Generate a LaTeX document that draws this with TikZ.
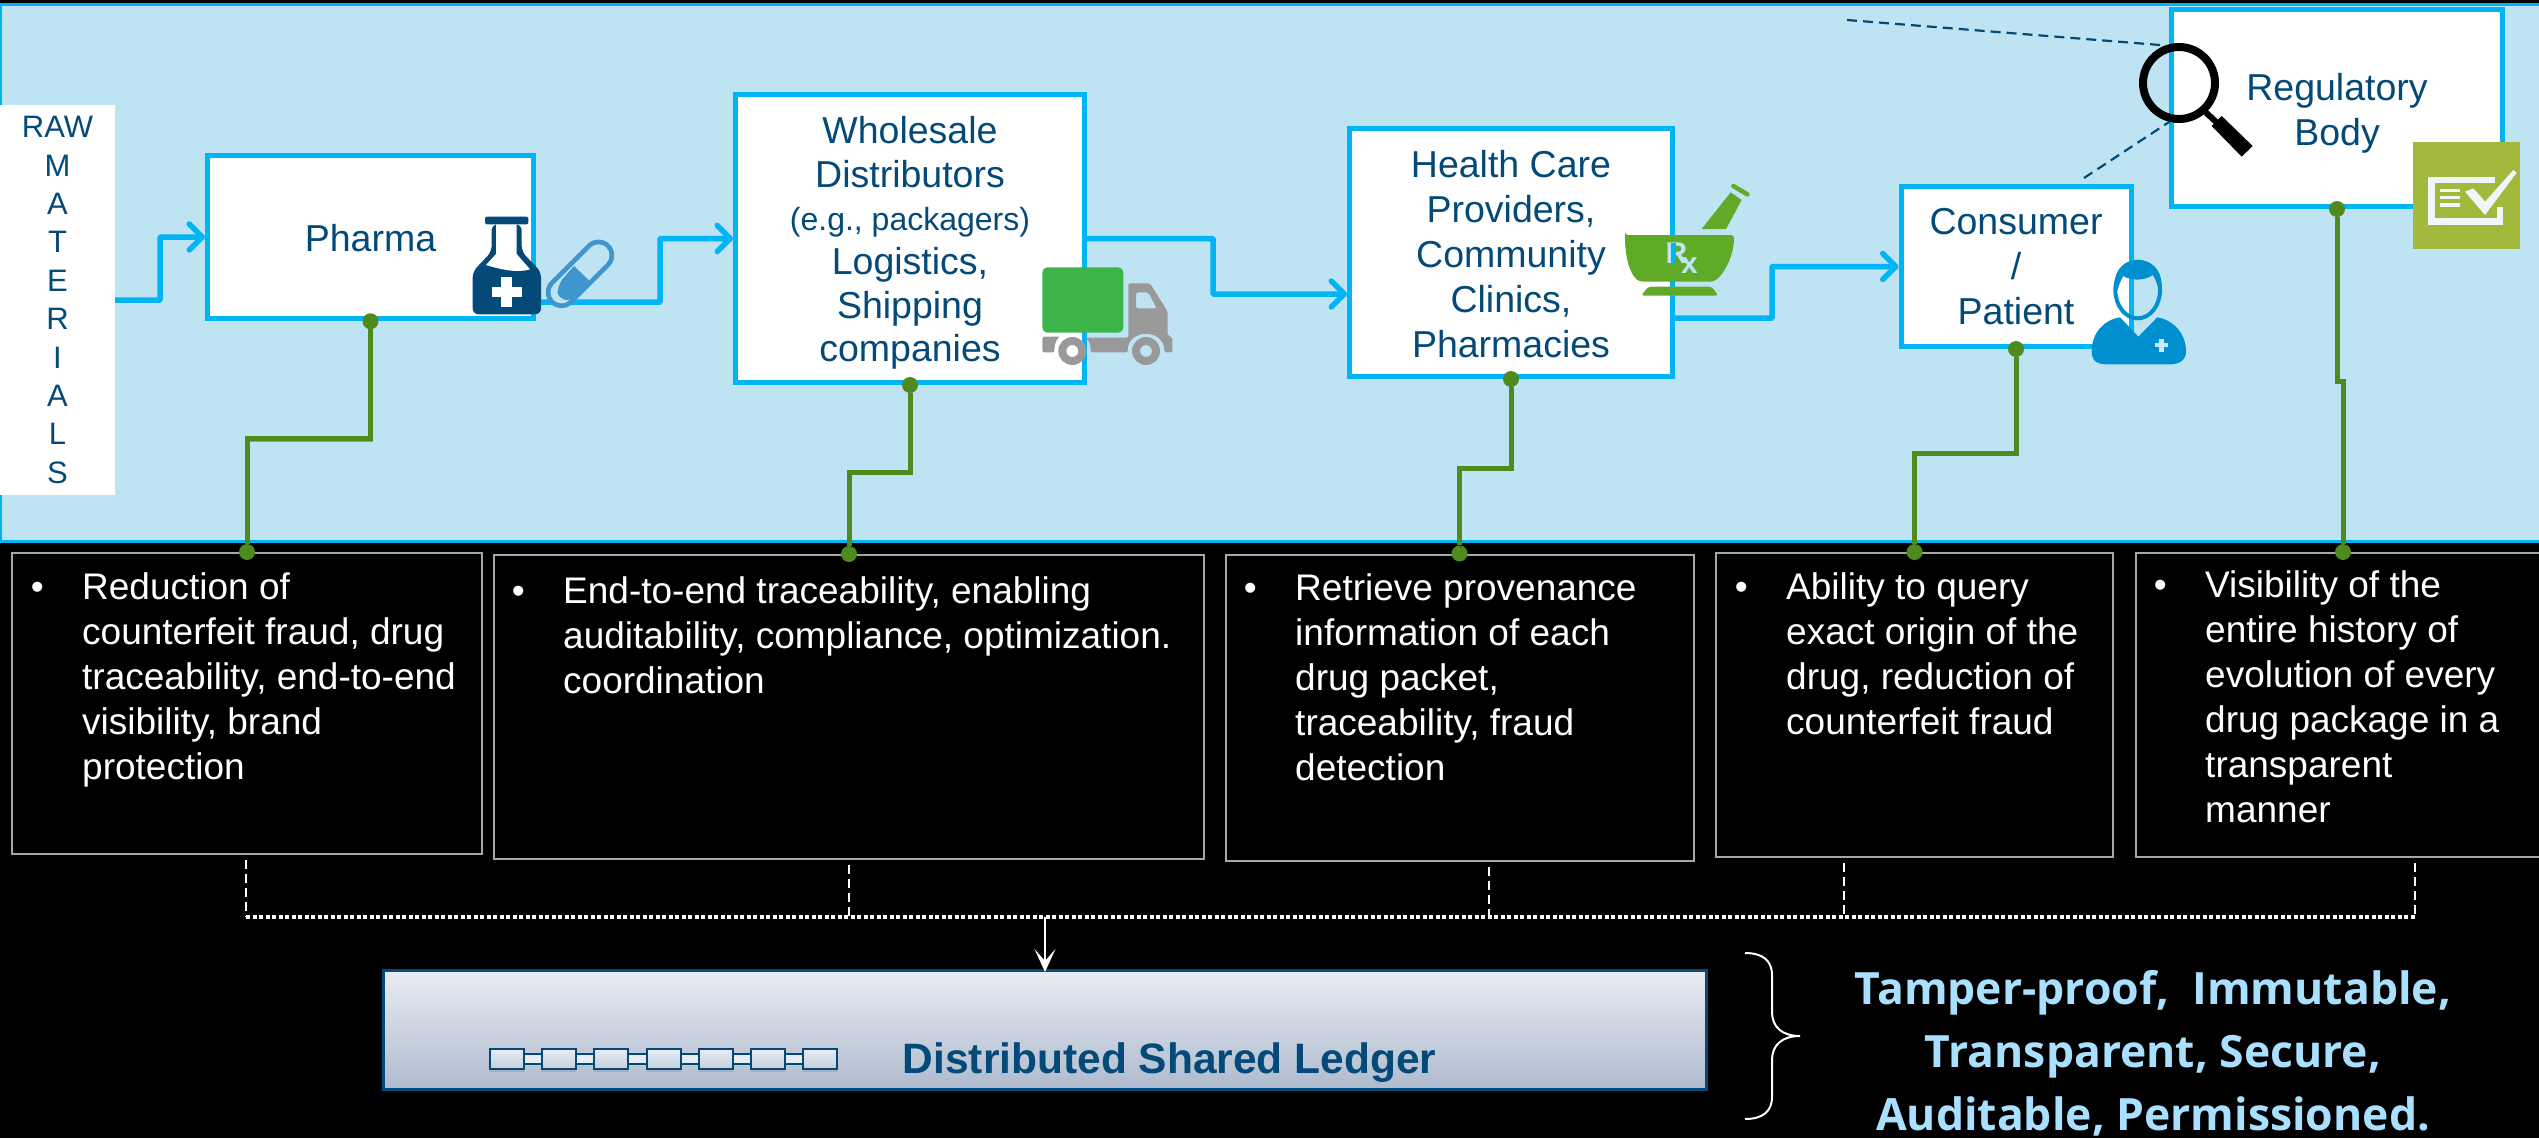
\documentclass[tikz,border=0pt]{standalone}
\usepackage{fontspec}
\setmainfont{Liberation Sans}
\newfontfamily\claimfont{Open Sans}
\usetikzlibrary{arrows.meta,positioning,shadows}
\definecolor{bandblue}{HTML}{BEE4F3}
\definecolor{flowcyan}{HTML}{00B4F5}
\definecolor{inknavy}{HTML}{044A78}
\definecolor{stemgreen}{HTML}{4F8A1E}
\definecolor{edgegray}{HTML}{A6A6A6}
\definecolor{ledgertop}{HTML}{E9ECF2}
\definecolor{ledgerbot}{HTML}{AEBBCE}
\definecolor{claimblue}{HTML}{A9E0FF}
\definecolor{checkolive}{HTML}{A2B93D}
\definecolor{checkpale}{HTML}{F2F6FA}
\definecolor{pillblue}{HTML}{3F95CE}
\definecolor{truckgreen}{HTML}{3BB44A}
\definecolor{truckgray}{HTML}{999999}
\definecolor{mortargreen}{HTML}{5FAB28}
\definecolor{medicblue}{HTML}{0090CF}
\definecolor{medicpale}{HTML}{CFE8F5}
\newcommand{\boxfont}{\fontsize{37.5}{45}\selectfont}
\newcommand{\notefont}{\fontsize{37}{45}\selectfont}
\newcommand{\lift}[1]{\rule{0pt}{#1pt}}
\tikzset{
	stage/.style={draw=flowcyan, fill=white, line width=5pt, inner sep=0pt, text=inknavy, align=center, font=\boxfont},
	flow/.style={draw=flowcyan, line width=5.5pt, rounded corners=1pt, -{Straight Barb[length=13pt,width=26pt,line width=5.5pt,round]},
		preaction={draw=black, opacity=.3, -, transform canvas={shift={(2pt,-2.5pt)}}}},
	stem/.style={draw=stemgreen, line width=5pt,
		preaction={draw=black, opacity=.3, transform canvas={shift={(2pt,-2.5pt)}}}},
	port/.style={circle, fill=stemgreen, inner sep=0pt, minimum size=16pt},
	notebox/.style={draw=edgegray, line width=2pt, inner sep=0pt},
	notetext/.style={text=white, align=left, inner sep=0pt, anchor=north west, font=\notefont},
	dropline/.style={draw=white, line width=2pt, dash pattern=on 9pt off 5pt, shorten <=5pt},
	busline/.style={draw=white, line width=3.2pt, dash pattern=on 4pt off 2.5pt},
	sightline/.style={draw=inknavy, line width=2.2pt, dash pattern=on 10pt off 6pt},
	chainblock/.style={draw=inknavy, line width=2pt, top color=ledgertop, bottom color=ledgerbot!60!ledgertop, minimum width=34pt, minimum height=20pt, inner sep=0pt,
		drop shadow={shadow xshift=0pt, shadow yshift=-2.5pt, opacity=.3}},
	chainlink/.style={draw=inknavy, line width=2pt, double=ledgertop, double distance=7.5pt},
}
\begin{document}
\begin{tikzpicture}[x=1pt, y=-1pt]
	\useasboundingbox[fill=black] (0,0) rectangle (2539,1138);
	\path[fill=bandblue, draw=flowcyan, line width=3pt] (0.5,4.5) rectangle (2545,541);

	\node (raw)		[fill=white, minimum width=115pt, minimum height=390pt, inner sep=0pt, text=inknavy, align=center, font=\fontsize{31}{38.4}\selectfont] at (57.5,300) {RAW\\M\\A\\T\\E\\R\\I\\A\\L\\S};
	\node (pharma)		[stage, minimum width=326pt, minimum height=163.5pt] at (370.5,237) {\lift{30}Pharma};
	\node (wholesale)	[stage, minimum width=349pt, minimum height=288pt, font=\fontsize{37.5}{43.6}\selectfont] at (910,238.5) {\lift{36}Wholesale\\Distributors\\{\fontsize{32}{43.6}\selectfont (e.g., packagers)}\\Logistics,\\Shipping\\companies};
	\node (health)		[stage, minimum width=323pt, minimum height=248pt] at (1511,252.5) {\lift{31}Health Care\\Providers,\\Community\\Clinics,\\Pharmacies};
	\node (consumer)	[stage, minimum width=230pt, minimum height=160pt] at (2016,266.5) {Consumer\\/\\Patient};
	\node (regulator)	[stage, minimum width=331pt, minimum height=197pt] at (2337,108) {\lift{37}Regulatory\\Body};

	\draw[flow] (raw.east) -| (160,237) -- (pharma.west);
	\draw[flow] ([yshift=-65pt]pharma.east) -- (660,302) |- (wholesale.west);
	\draw[flow] (wholesale.east) -| (1213,294) -- ([yshift=-41.5pt]health.west);
	\draw[flow] ([yshift=-65.5pt]health.east) -- (1772,318) |- (consumer.west);

	\node (reduce)	[notebox, minimum width=470pt, minimum height=301pt] at (247,703.5) {};
	\node (trace)	[notebox, minimum width=710pt, minimum height=304pt] at (849,707) {};
	\node (prove)	[notebox, minimum width=468pt, minimum height=306pt] at (1459.5,707.5) {};
	\node (query)	[notebox, minimum width=397pt, minimum height=304pt] at (1914.5,705) {};
	\node (visible)	[notebox, minimum width=414pt, minimum height=304pt] at (2343,705) {};

	\node (reducetext)	[notetext] at (82,568) {\strut Reduction of\\counterfeit fraud, drug\\traceability, end-to-end\\visibility, brand\\protection};
	\node (tracetext)	[notetext] at (563,572) {\strut End-to-end traceability, enabling\\auditability, compliance, optimization.\\coordination};
	\node (provetext)	[notetext] at (1295,569) {\strut Retrieve provenance\\information of each\\drug packet,\\traceability, fraud\\detection};
	\node (querytext)	[notetext] at (1786,568) {\strut Ability to query\\exact origin of the\\drug, reduction of\\counterfeit fraud};
	\node (visibletext)	[notetext] at (2205,566) {\strut Visibility of the\\entire history of\\evolution of every\\drug package in a\\transparent\\manner};
	\foreach \t in {reducetext,tracetext,provetext,querytext,visibletext}
		\node (\t bullet) [notetext, anchor=north east] at ([xshift=-38pt]\t.north west) {\strut\textbullet};

	\node (pharmaport)	[port] at (pharma.south) {};
	\node (wholeport)	[port] at (wholesale.south) {};
	\node (healthport)	[port] at (health.south) {};
	\node (consumerport)	[port] at (consumer.south) {};
	\node (regport)		[port] at (regulator.south) {};
	\node (reduceport)	[port] at (reduce.north) {};
	\node (traceport)	[port] at (trace.north) {};
	\node (proveport)	[port] at (prove.north) {};
	\node (queryport)	[port] at (query.north) {};
	\node (visibleport)	[port] at (visible.north) {};

	\draw[stem] (pharmaport) -- ++(0,117) -| (reduceport);
	\draw[stem] (wholeport) -- ++(0,87) -| (traceport);
	\draw[stem] (healthport) -- ++(0,89) -| (proveport);
	\draw[stem] (consumerport) -- ++(0,104) -| (queryport);
	\draw[stem] (regport) -- ++(0,172) -| (visibleport);

	\foreach \i/\n/\x in {1/reduce/246,2/trace/849,3/prove/1489,4/query/1843.5,5/visible/2414.5} {
		\coordinate (bus\i) at (\x,917);
		\draw[dropline] (\n.south -| bus\i) -- (bus\i);
	}
	\draw[busline] (bus1) -- (bus5);

	\node (ledger) [draw=inknavy, line width=3pt, top color=ledgertop, bottom color=ledgerbot, minimum width=1323pt, minimum height=119pt, inner sep=0pt] at (1044.75,1030) {};
	\coordinate (busout) at (1045,917);
	\draw[white, line width=1.6pt, -{Stealth[length=23pt,width=21pt,inset=12pt]}, shorten >=-3pt] (busout) -- (ledger.north -| busout);

	\foreach \i in {1,...,7}
		\node (block\i) [chainblock] at ({507+52.2*(\i-1)},1059) {};
	\foreach \i/\j in {1/2,2/3,3/4,4/5,5/6,6/7}
		\draw[chainlink] (block\i) -- (block\j);
	\node (ledgertext) [right=61pt of block7.east, anchor=west, yshift=-4pt, text=inknavy, font=\bfseries\fontsize{42.5}{50}\selectfont] {Distributed Shared Ledger};

	\draw[white, line width=2pt] (1745,953) .. controls (1762,953) and (1772,960) .. (1772,975) -- (1772,1012) .. controls (1772,1027) and (1782,1036) .. (1800,1036) .. controls (1782,1036) and (1772,1045) .. (1772,1060) -- (1772,1097) .. controls (1772,1112) and (1762,1119) .. (1745,1119);
	\node (claims) [text=claimblue, align=center, font=\claimfont\bfseries\fontsize{44.5}{63}\selectfont] at (2153,1053) {Tamper-proof,\ \ Immutable,\\Transparent, Secure,\\Auditable, Permissioned.};

	\node (lens) [circle, draw=black, line width=8pt, minimum size=72pt, inner sep=0pt] at (2179,83) {};
	\coordinate (watch) at (1847,20);
	\coordinate (patientview) at (2084,178);
	\draw[sightline] (watch) -- (lens.110);
	\draw[sightline] (patientview) -- (lens.256);

	\begin{scope}[shift={(2120,20)}, scale=1/3]
		\draw[black, line width=6pt] (255,275) -- (295,312);
		\fill[black] (305,288) -- (398,378) -- (365,410) -- (275,318) -- cycle;
		\fill[checkolive] (878,366) rectangle (1200,688);
		\draw[checkpale, line width=6.7pt] (1125,480) -- (935,480) -- (935,605) -- (1140,605) -- (1140,560);
		\foreach \y in {512,533,555}
			\draw[checkpale, line width=3.3pt] (960,\y) -- (1020,\y);
		\fill[checkpale] (1035,515) -- (1060,505) -- (1095,545) -- (1180,450) -- (1190,458) -- (1095,585) -- cycle;
	\end{scope}

	\begin{scope}[shift={(460,180)}, scale=1/3]
		\draw[pillblue, line width=31.5pt, line cap=round] (304.5,337) -- (415.5,226);
		\draw[bandblue, line width=22pt, line cap=round] (304.5,337) -- (415.5,226);
		\fill[pillblue] (342,258) -- (392,306) -- (345,350) .. controls (325,368) and (298,360) .. (293,338) .. controls (293,325) and (298,315) .. (305,300) -- cycle;
		\fill[inknavy, rounded corners=6pt] (95,133) -- (95,215) -- (38,275) -- (38,403) -- (243,403) -- (243,275) -- (185,215) -- (185,133) -- cycle;
		\fill[inknavy, rounded corners=2pt] (75,110) rectangle (205,133);
		\fill[white] (108,133) -- (108,222) -- (78,255) .. controls (120,268) and (170,280) .. (210,268) -- (170,222) -- (170,133) -- cycle;
		\fill[white] (122,292) rectangle (155,380);
		\fill[white] (95,320) rectangle (185,350);
	\end{scope}

	\begin{scope}[shift={(1020,240)}, scale=1/3]
		\fill[truckgreen, rounded corners=5pt] (67,82) rectangle (310,278);
		\fill[truckgray, even odd rule, rounded corners=2pt] (325,130) -- (390,130) -- (443,215) -- (443,288) -- (457,290) -- (457,337) -- (433,337) .. controls (433,265) and (323,265) .. (323,337) -- (212,337) .. controls (212,310) and (205,300) .. (195,293) -- (325,293) -- cycle (348,157) -- (385,157) -- (410,205) -- (348,205) -- cycle;
		\fill[truckgray, rounded corners=2pt] (67,290) -- (120,290) .. controls (108,300) and (103,315) .. (103,337) -- (67,337) -- cycle;
		\fill[truckgray, even odd rule] (157,333) circle (42) (157,333) circle (18);
		\fill[truckgray, even odd rule] (378,333) circle (42) (378,333) circle (18);
	\end{scope}

	\begin{scope}[shift={(1640,160)}, scale=1/3]
		\fill[mortargreen] (185,207) -- (258,207) -- (305,120) -- (272,97) -- cycle;
		\draw[mortargreen, line width=4.5pt, line cap=round] (280,78) -- (322,103);
		\fill[mortargreen, rounded corners=3pt] (-45,225) -- (282,225) .. controls (282,290) and (250,345) .. (220,365) -- (0,365) .. controls (-30,345) and (-45,290) .. (-45,225) -- cycle;
		\fill[mortargreen, rounded corners=3pt] (3,407) -- (25,380) -- (215,380) -- (235,407) -- cycle;
		\node (rxmark) [text=bandblue, inner sep=0pt, font=\bfseries\fontsize{30}{30}\selectfont] at (125,296) {R\kern-6pt\raisebox{-10pt}{x}};
		\fill[flowcyan] (92,250) rectangle (107,312);
	\end{scope}

	\begin{scope}[shift={(2060,240)}, scale=1/3]
		\draw[medicblue, line width=4pt] (233,150) ellipse [x radius=67, y radius=85];
		\fill[medicblue] (163,140) .. controls (163,85) and (195,60) .. (233,60) .. controls (272,60) and (305,85) .. (305,140) -- (296,150) .. controls (292,130) and (285,115) .. (278,105) .. controls (260,120) and (215,125) .. (190,108) .. controls (182,120) and (175,140) .. (172,152) -- cycle;
		\fill[medicblue] (95,335) .. controls (95,280) and (130,240) .. (180,232) -- (235,290) -- (292,232) .. controls (340,240) and (378,280) .. (378,335) .. controls (378,365) and (350,373) .. (330,373) -- (140,373) .. controls (115,373) and (95,365) .. (95,335) -- cycle;
		\fill[medicpale] (298,297) rectangle (312,335);
		\fill[medicpale] (285,309) rectangle (325,322);
	\end{scope}
\end{tikzpicture}
\end{document}
